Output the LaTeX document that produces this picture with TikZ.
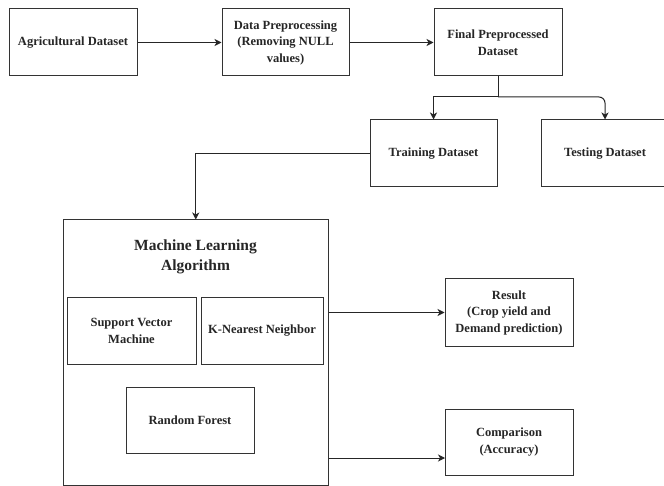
\documentclass[tikz,border=0pt]{standalone}
\usepackage{fontspec}
\setmainfont{Liberation Serif}
\usetikzlibrary{arrows.meta}
\begin{document}
\begin{tikzpicture}[x=1pt,y=-1pt,
  box/.style={draw=black!80, line width=1pt, rectangle, inner sep=2pt, align=center,
    font=\fontsize{12.5}{16.5}\selectfont\bfseries, text=black!85},
  conn/.style={draw=black!85, line width=1pt},
  arr/.style={conn, -{Stealth[length=7pt,width=7pt,inset=2pt]}}]
\useasboundingbox (0,0) rectangle (664,486);
\clip (0,0) rectangle (664,486);
\fill[white] (0,0) rectangle (664,486);
\node[box, minimum width=128pt, minimum height=67pt] (agri) at (73,42.5) {Agricultural Dataset};
\node[box, minimum width=127pt, minimum height=67pt] (prep) at (285.5,42.5) {Data Preprocessing\\(Removing NULL\\values)};
\node[box, minimum width=128pt, minimum height=67pt] (final) at (498,42.5) {Final Preprocessed\\Dataset};
\node[box, minimum width=127pt, minimum height=67pt] (train) at (433.5,153.5) {Training Dataset};
\node[box, minimum width=128pt, minimum height=67pt] (test) at (605,153.5) {Testing Dataset};
\node[box, minimum width=265.5pt, minimum height=265pt] (ml) at (195.75,352.5) {};
\node[align=center, font=\fontsize{15.5}{20}\selectfont\bfseries, text=black!85] (mltitle) at (195.5,257) {Machine Learning\\Algorithm};
\node[box, minimum width=129pt, minimum height=66pt] (svm) at (131.5,331) {Support Vector\\Machine};
\node[box, minimum width=122pt, minimum height=66pt] (knn) at (262,331) {K-Nearest Neighbor};
\node[box, minimum width=128pt, minimum height=66pt] (rf) at (190,420) {Random Forest};
\node[box, minimum width=128pt, minimum height=67pt] (result) at (509,312.5) {Result\\(Crop yield and\\Demand prediction)};
\node[box, minimum width=128pt, minimum height=66pt] (comp) at (509,442) {Comparison\\(Accuracy)};
\coordinate (j) at (498,97);
\coordinate (cin) at (445,458);
\draw[arr] (agri.east) -- (prep.west);
\draw[arr] (prep.east) -- (final.west);
\draw[conn] (final.south) -- (j);
\draw[arr] (j) -| (train.north);
\draw[arr, rounded corners=6pt] (j) -| (test.north);
\draw[arr] (train.west) -| (ml.north);
\draw[arr] (ml.east |- result.west) -- (result.west);
\draw[arr] (ml.east |- cin) -- (cin);
\end{tikzpicture}
\end{document}
